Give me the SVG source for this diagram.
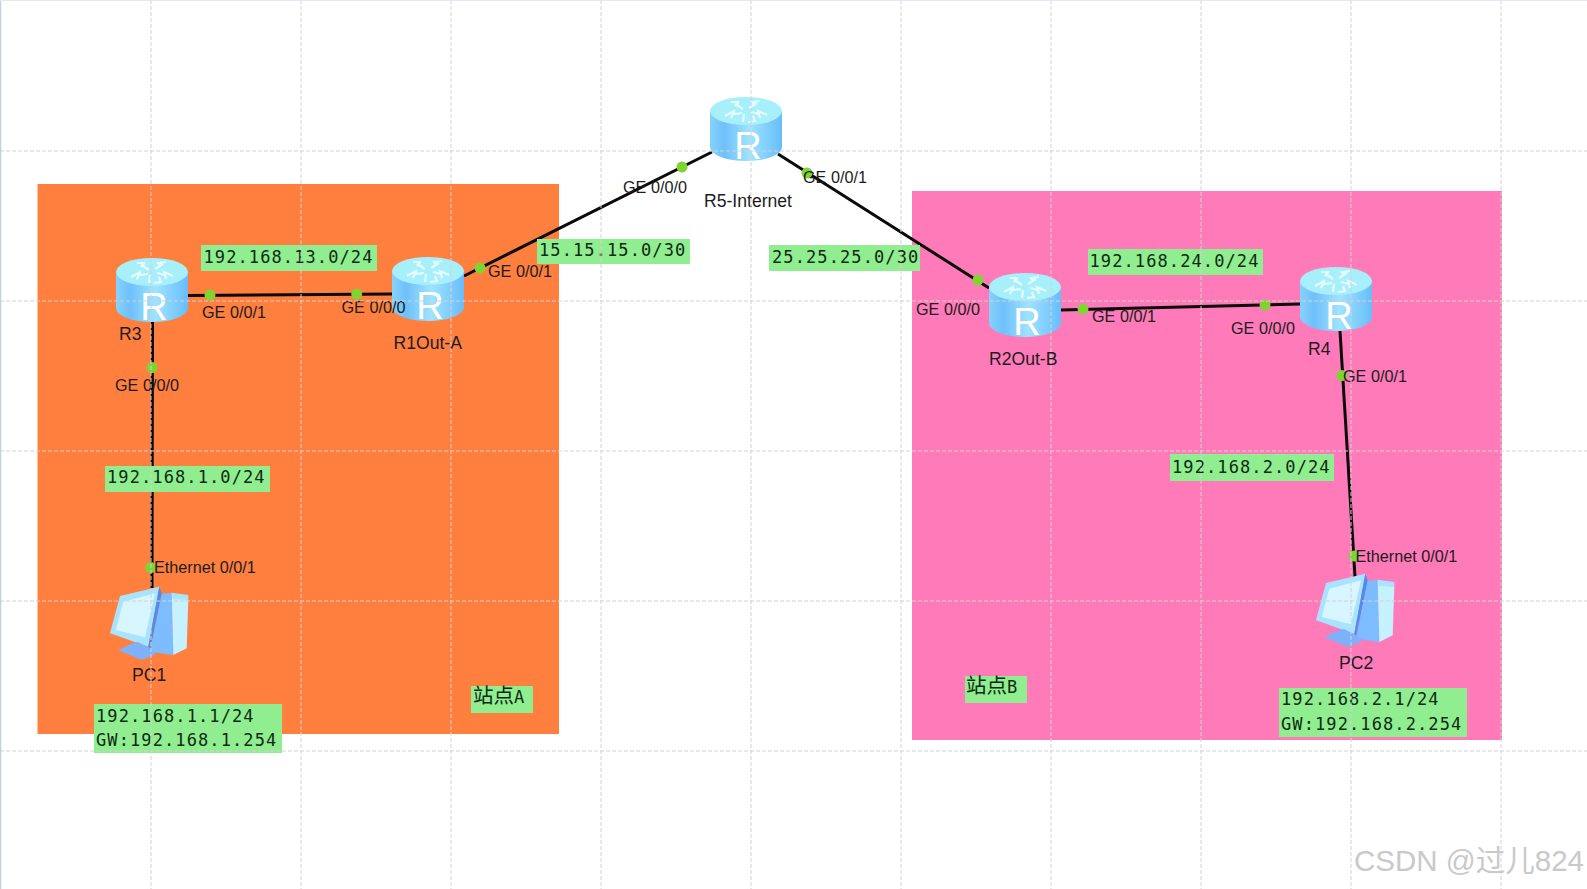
<svg xmlns="http://www.w3.org/2000/svg" xmlns:xlink="http://www.w3.org/1999/xlink" width="1587" height="889" viewBox="0 0 1587 889">
<style>
.link{stroke:#0a0a0a;stroke-width:3;fill:none;stroke-linecap:butt}
.dot{fill:#80d432}
.grid{stroke:#d2d2d2;stroke-width:1;stroke-dasharray:4 2;fill:none}
.lb{fill:#90ee90}
.mono{font-family:"DejaVu Sans Mono","Noto Sans CJK SC",monospace;font-size:17px;letter-spacing:1.1px;fill:#0d2a12}
.t{font-family:"Liberation Sans",Arial,sans-serif;font-size:16.2px;fill:#1c1c22}
.n{font-family:"Liberation Sans",Arial,sans-serif;font-size:17.6px;fill:#1c1c22}
.r{font-family:"Liberation Sans",Arial,sans-serif;font-size:38px;fill:#fff;text-anchor:middle}
.cjk{font-family:"Noto Sans CJK SC",sans-serif;font-size:20.5px;fill:#0d2a12}
.cjk tspan{font-family:"DejaVu Sans Mono",monospace;font-size:17px}
.wm{font-family:"Liberation Sans","Noto Sans CJK SC",sans-serif;font-size:29.5px;fill:#c9c9c9}
.ar{fill:none;stroke:#e4fbff;stroke-width:2.2}
</style>
<defs>
<linearGradient id="cyl" x1="0" x2="1" y1="0" y2="0">
<stop offset="0" stop-color="#86d2fb"/><stop offset=".2" stop-color="#6fc0fb"/><stop offset=".55" stop-color="#9fe3ff"/><stop offset="1" stop-color="#67bdfa"/>
</linearGradient>
<g id="router">
<path d="M0 14V50A36 14 0 0 0 72 50V14Z" fill="url(#cyl)"/>
<ellipse cx="36" cy="14" rx="36" ry="14" fill="#a8effc"/>
<path class="ar" d="M21 5h7l-1 3 6 4M28 5l-3 4"/>
<path class="ar" d="M50 4l-8 1 2 3-5 3M42 5l5 2"/>
<path class="ar" d="M15 19l9-5 0 3 8-1M24 14l-3 7"/>
<path class="ar" d="M57 18l-9-4 1 3-8-2M48 14l2 7"/>
<path class="ar" d="M33 25l1-8M38 25l7-1-2-5"/>
</g>
<g id="pc">
<path d="M40 46L79.300 36.700L68.300 96.700L30 83.300Z" fill="#a8e4ff"/>
<path d="M43.300 51.700L75 43.300L65 87.300L35.700 80Z" fill="#d8f6ff"/>
<path d="M79.300 36.700L81.700 43.300L70 100L68.300 96.700Z" fill="#4c8df0"/>
<path d="M81.700 44L91.700 42.700L93.300 105L70 101.700Z" fill="#7cbcff"/>
<path d="M91.700 42.700L108.300 50L106.700 98.300L93.300 105Z" fill="#c6f1ff"/>
<path d="M91.700 42.700L108.300 45L108.300 50L93 49Z" fill="#a8e4ff"/>
<path d="M38.300 100L48.300 95L58 92L68 97L76 104L62 110Z" fill="#7db2fb"/>
</g>
</defs>
<rect width="1587" height="889" fill="#fff"/>
<rect id="zone-a" x="37.500" y="184" width="521.500" height="550" fill="#ff7f3f"/>
<rect id="zone-b" x="912" y="191" width="590" height="549" fill="#ff7ab8"/>
<g id="connectors">
<path class="link" d="M188 295.500L392 294"/>
<path class="link" d="M152.500 322L152 588"/>
<path class="link" d="M464 276L712 152"/>
<path class="link" d="M778 154L989 288"/>
<path class="link" d="M1061 310L1300 304"/>
<path class="link" d="M1340 331L1355 577"/>
<circle class="dot" cx="210" cy="295" r="5.500"/><circle class="dot" cx="356.700" cy="294" r="5.500"/>
<circle class="dot" cx="152" cy="367.500" r="5.500"/><circle class="dot" cx="150.700" cy="567.500" r="5.500"/>
<circle class="dot" cx="480" cy="268" r="5.500"/><circle class="dot" cx="682" cy="167" r="5.500"/>
<circle class="dot" cx="807" cy="173" r="5.500"/><circle class="dot" cx="978" cy="280" r="5.500"/>
<circle class="dot" cx="1083" cy="309" r="5.500"/><circle class="dot" cx="1265" cy="305" r="5.500"/>
<circle class="dot" cx="1342" cy="375.500" r="5.500"/><circle class="dot" cx="1354" cy="556" r="5.500"/>
</g>
<g id="R3"><use xlink:href="#router" href="#router" x="116" y="258"/><text class="r" x="154" y="319.500">R</text><text class="n" x="119" y="340">R3</text></g>
<g id="R1"><use xlink:href="#router" href="#router" x="392" y="257"/><text class="r" x="430" y="318.500">R</text><text class="n" x="393.500" y="349">R1Out-A</text></g>
<g id="R5"><use xlink:href="#router" href="#router" x="710" y="97"/><text class="r" x="748" y="158.500">R</text><text class="n" x="704" y="206.500">R5-Internet</text></g>
<g id="R2"><use xlink:href="#router" href="#router" x="989" y="273"/><text class="r" x="1027" y="334.500">R</text><text class="n" x="989" y="365">R2Out-B</text></g>
<g id="R4"><use xlink:href="#router" href="#router" x="1300" y="267"/><text class="r" x="1339" y="328.500">R</text><text class="n" x="1308" y="355">R4</text></g>
<g id="PC1"><use xlink:href="#pc" href="#pc" x="80" y="550"/><text class="n" x="132" y="680.500">PC1</text></g>
<g id="PC2"><use xlink:href="#pc" href="#pc" x="1286" y="537"/><text class="n" x="1339" y="668.500">PC2</text></g>
<g id="interfaces">
<text class="t" x="202" y="318">GE 0/0/1</text>
<text class="t" x="341.500" y="313">GE 0/0/0</text>
<text class="t" x="115" y="391">GE 0/0/0</text>
<text class="t" x="488" y="277">GE 0/0/1</text>
<text class="t" x="623" y="193">GE 0/0/0</text>
<text class="t" x="803" y="183">GE 0/0/1</text>
<text class="t" x="916" y="315">GE 0/0/0</text>
<text class="t" x="1092" y="322">GE 0/0/1</text>
<text class="t" x="1231" y="334">GE 0/0/0</text>
<text class="t" x="1343" y="382">GE 0/0/1</text>
<text class="t" x="154" y="573">Ethernet 0/0/1</text>
<text class="t" x="1355.500" y="562">Ethernet 0/0/1</text>
</g>
<g id="labels">
<rect class="lb" x="201" y="245" width="176" height="26"/><text class="mono" x="203.500" y="262.500">192.168.13.0/24</text>
<rect class="lb" x="537" y="239" width="153" height="25"/><text class="mono" x="539" y="255.500">15.15.15.0/30</text>
<rect class="lb" x="769" y="245" width="151" height="26"/><text class="mono" x="772" y="262.500">25.25.25.0/30</text>
<rect class="lb" x="1088" y="249" width="175" height="26"/><text class="mono" x="1089.500" y="266.500">192.168.24.0/24</text>
<rect class="lb" x="105" y="466" width="165" height="26"/><text class="mono" x="107" y="483">192.168.1.0/24</text>
<rect class="lb" x="1170" y="454" width="164" height="27"/><text class="mono" x="1172" y="472.500">192.168.2.0/24</text>
<rect class="lb" x="94" y="704" width="188" height="49"/><text class="mono" x="96" y="721.500">192.168.1.1/24</text><text class="mono" x="96" y="746">GW:192.168.1.254</text>
<rect class="lb" x="1279" y="688" width="188" height="49"/><text class="mono" x="1281" y="705">192.168.2.1/24</text><text class="mono" x="1281" y="730">GW:192.168.2.254</text>
<rect class="lb" x="471" y="686" width="62" height="27"/><text class="cjk" x="473" y="703">站点<tspan>A</tspan></text>
<rect class="lb" x="965" y="676" width="62" height="27"/><text class="cjk" x="966" y="693">站点<tspan>B</tspan></text>
</g>
<g id="grid">
<path class="grid" d="M151 0V889M301 0V889M451 0V889M601 0V889M751 0V889M901 0V889M1051 0V889M1201 0V889M1351 0V889M1501 0V889"/>
<path class="grid" d="M0 151H1587M0 301H1587M0 451H1587M0 601H1587M0 751H1587"/>
</g>
<path d="M0.500 0V889" stroke="#c3d0e0" stroke-width="1.500" fill="none"/>
<path d="M0 0.500H1587" stroke="#e2e8ef" stroke-width="1" fill="none"/>
<text class="wm" x="1354" y="871">CSDN @过儿824</text>
</svg>
